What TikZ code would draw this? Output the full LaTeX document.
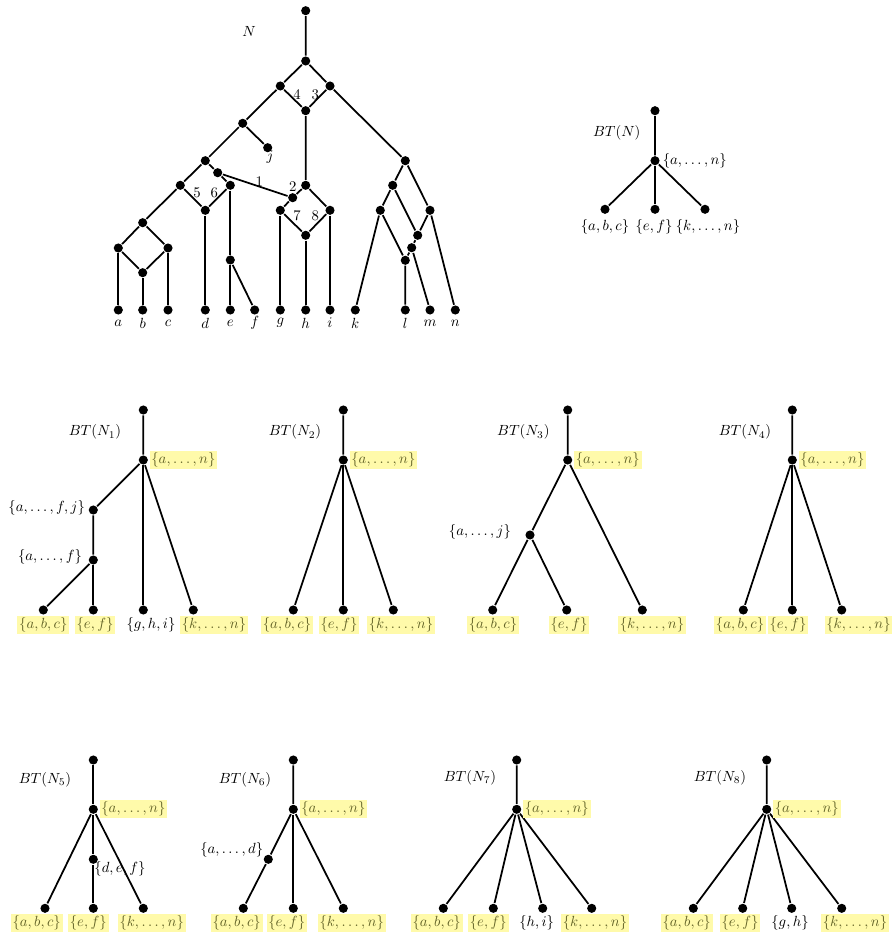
\documentclass[tikz,border=0pt]{standalone}
\usepackage{amsmath}
\usepackage{amssymb}
\definecolor{hlfill}{RGB}{255,250,170}
\definecolor{hltext}{RGB}{100,100,40}

\begin{document}
\begin{tikzpicture}[x=0.68pt,y=-0.68pt,line width=1.2pt,
    dot/.style={circle,fill=black,inner sep=0pt,minimum size=6.2pt},
    lab/.style={inner sep=1pt},
    hl/.style={fill=hlfill,text=hltext,inner sep=1.2pt}]
      \useasboundingbox (0,0) rectangle (895,937);

      % the network N
      \node[dot] (rt) at (305.7,10.7) {};
      \node[dot] (v1) at (305.7,61) {};
      \node[dot] (v2l) at (280.3,86) {};
      \node[dot] (v2r) at (330,86) {};
      \node[dot] (v2b) at (305.7,110.7) {};
      \node[dot] (v3) at (242.7,123.3) {};
      \node[dot] (vj) at (267.7,147.7) {};
      \node[dot] (v4) at (205.3,160.7) {};
      \node[dot] (v5) at (217.7,172.7) {};
      \node[dot] (v6l) at (180.3,185.3) {};
      \node[dot] (v6r) at (230.3,185.3) {};
      \node[dot] (v6b) at (205.3,210.3) {};
      \node[dot] (w1) at (305.7,185.3) {};
      \node[dot] (w2) at (292.7,197.7) {};
      \node[dot] (w3l) at (280.3,210.3) {};
      \node[dot] (w3r) at (330,210.3) {};
      \node[dot] (w3b) at (305.7,235.3) {};
      \node[dot] (u1) at (142.7,222.7) {};
      \node[dot] (u2l) at (118.3,248) {};
      \node[dot] (u2r) at (168,248) {};
      \node[dot] (u2b) at (142.7,272.7) {};
      \node[dot] (uef) at (230.3,260) {};
      \node[dot] (x1) at (405.3,160.7) {};
      \node[dot] (x2) at (392.7,185.3) {};
      \node[dot] (x3) at (380.3,210.3) {};
      \node[dot] (x4) at (430,210.3) {};
      \node[dot] (x5) at (417.7,235.3) {};
      \node[dot] (x6) at (411.7,247.7) {};
      \node[dot] (x7) at (405.3,260.3) {};
      \node[dot] (la) at (118.3,310) {};
      \node[dot] (lb) at (142.7,310) {};
      \node[dot] (lc) at (168,310) {};
      \node[dot] (ld) at (205.3,310) {};
      \node[dot] (le) at (230.3,310) {};
      \node[dot] (lf) at (254.7,310) {};
      \node[dot] (lg) at (280.3,310) {};
      \node[dot] (lh) at (305.7,310) {};
      \node[dot] (li) at (330,310) {};
      \node[dot] (lk) at (355.3,310) {};
      \node[dot] (ll) at (405.3,310) {};
      \node[dot] (lm) at (430,310) {};
      \node[dot] (ln) at (455.3,310) {};

      \draw (rt) -- (v1) -- (v2l) -- (v2b) -- (v2r) -- (v1);
      \draw (v2l) -- (v3) -- (vj);
      \draw (v3) -- (v4) -- (v5) -- (v6r) -- (v6b) -- (v6l) -- (v4);
      \draw (v5) -- (w2);
      \draw (v2b) -- (w1) -- (w2) -- (w3l) -- (w3b) -- (w3r) -- (w1);
      \draw (v6l) -- (u1) -- (u2l) -- (u2b) -- (u2r) -- (u1);
      \draw (u2l) -- (la);
      \draw (u2b) -- (lb);
      \draw (u2r) -- (lc);
      \draw (v6b) -- (ld);
      \draw (v6r) -- (uef) -- (le);
      \draw (uef) -- (lf);
      \draw (w3l) -- (lg);
      \draw (w3b) -- (lh);
      \draw (w3r) -- (li);
      \draw (v2r) -- (x1) -- (x2) -- (x3) -- (lk);
      \draw (x1) -- (x4) -- (ln);
      \draw (x2) -- (x5);
      \draw (x4) -- (x5) -- (x6) -- (x7) -- (ll);
      \draw (x3) -- (x7);
      \draw (x6) -- (lm);

      \node[lab] (tN) at (249,31) {$N$};
      \node[lab] (tj) at (270,156.7) {$j$};
      \node[lab] (e4) at (297,94.3) {4};
      \node[lab] (e3) at (315.3,94.3) {3};
      \node[lab] (e5) at (197,192.7) {5};
      \node[lab] (e6) at (214.3,192.7) {6};
      \node[lab] (e1) at (259.3,181.7) {1};
      \node[lab] (e2) at (292.7,186.7) {2};
      \node[lab] (e7) at (297,215.7) {7};
      \node[lab] (e8) at (315.3,215.7) {8};
      \node[lab] (ta) at (118.3,323) {$a$};
      \node[lab] (tb) at (142.7,323) {$b$};
      \node[lab] (tc) at (168,323) {$c$};
      \node[lab] (td) at (205.3,323) {$d$};
      \node[lab] (te) at (230.3,323) {$e$};
      \node[lab] (tf) at (254.7,323) {$f$};
      \node[lab] (tg) at (280.3,323) {$g$};
      \node[lab] (th) at (305.7,323) {$h$};
      \node[lab] (ti) at (330,323) {$i$};
      \node[lab] (tk) at (355.3,323) {$k$};
      \node[lab] (tl) at (405.3,323) {$l$};
      \node[lab] (tm) at (430,323) {$m$};
      \node[lab] (tn) at (455.3,323) {$n$};

      % BT(N)
      \node[dot] (b0) at (655,110.7) {};
      \node[dot] (b1) at (655,160.7) {};
      \node[dot] (b2) at (605,209.3) {};
      \node[dot] (b3) at (655,209.3) {};
      \node[dot] (b4) at (705,209.3) {};
      \draw (b0) -- (b1) -- (b2);
      \draw (b1) -- (b3);
      \draw (b1) -- (b4);
      \node[lab] (bT) at (616.7,133.3) {$BT(N)$};
      \node[lab,anchor=west] (bAll) at (b1.east) {$\{a,\ldots,n\}$};
      \node[lab] (bA) at (605,226.7) {$\{a,b,c\}$};
      \node[lab] (bE) at (654,226.7) {$\{e,f\}$};
      \node[lab] (bK) at (708,226.7) {$\{k,\ldots,n\}$};

      % BT(N_1)
      \node[dot] (p0) at (143.3,410) {};
      \node[dot] (p1) at (143.3,460) {};
      \node[dot] (p2) at (93.3,510) {};
      \node[dot] (p3) at (93.3,560) {};
      \node[dot] (p4) at (43.3,610) {};
      \node[dot] (p5) at (93.3,610) {};
      \node[dot] (p6) at (143.3,610) {};
      \node[dot] (p7) at (193.3,610) {};
      \draw (p0) -- (p1) -- (p2) -- (p3) -- (p4);
      \draw (p3) -- (p5);
      \draw (p1) -- (p6);
      \draw (p1) -- (p7);
      \node[lab] (pT) at (95,432.3) {$BT(N_1)$};
      \node[hl,anchor=west] (pAll) at (p1.east) {$\{a,\ldots,n\}$};
      \node[lab] (pJ) at (46.7,508.3) {$\{a,\ldots,f,j\}$};
      \node[lab] (pF) at (50,556.7) {$\{a,\ldots,f\}$};
      \node[hl] (pA) at (43.3,625) {$\{a,b,c\}$};
      \node[hl] (pE) at (95,625) {$\{e,f\}$};
      \node[lab] (pG) at (151,625) {$\{g,h,i\}$};
      \node[hl] (pK) at (214,625) {$\{k,\ldots,n\}$};

      % BT(N_2)
      \node[dot] (q0) at (343.3,410) {};
      \node[dot] (q1) at (343.3,460) {};
      \node[dot] (q2) at (293.3,610) {};
      \node[dot] (q3) at (343.3,610) {};
      \node[dot] (q4) at (393.3,610) {};
      \draw (q0) -- (q1) -- (q2);
      \draw (q1) -- (q3);
      \draw (q1) -- (q4);
      \node[lab] (qT) at (295,432.3) {$BT(N_2)$};
      \node[hl,anchor=west] (qAll) at (q1.east) {$\{a,\ldots,n\}$};
      \node[hl] (qA) at (287,625) {$\{a,b,c\}$};
      \node[hl] (qE) at (339,625) {$\{e,f\}$};
      \node[hl] (qK) at (401,625) {$\{k,\ldots,n\}$};

      % BT(N_3)
      \node[dot] (s0) at (567.7,410) {};
      \node[dot] (s1) at (567.7,460) {};
      \node[dot] (s2) at (530,535) {};
      \node[dot] (s3) at (492.7,610) {};
      \node[dot] (s4) at (566.7,610) {};
      \node[dot] (s5) at (642.3,610) {};
      \draw (s0) -- (s1) -- (s2) -- (s3);
      \draw (s2) -- (s4);
      \draw (s1) -- (s5);
      \node[lab] (sT) at (523.3,432.3) {$BT(N_3)$};
      \node[hl,anchor=west] (sAll) at (s1.east) {$\{a,\ldots,n\}$};
      \node[lab] (sJ) at (480,532) {$\{a,\ldots,j\}$};
      \node[hl] (sA) at (493,625) {$\{a,b,c\}$};
      \node[hl] (sE) at (569,625) {$\{e,f\}$};
      \node[hl] (sK) at (652,625) {$\{k,\ldots,n\}$};

      % BT(N_4)
      \node[dot] (f0) at (792.3,410) {};
      \node[dot] (f1) at (792.3,460) {};
      \node[dot] (f2) at (743.3,610) {};
      \node[dot] (f3) at (792.3,610) {};
      \node[dot] (f4) at (841.7,610) {};
      \draw (f0) -- (f1) -- (f2);
      \draw (f1) -- (f3);
      \draw (f1) -- (f4);
      \node[lab] (fT) at (745,432.3) {$BT(N_4)$};
      \node[hl,anchor=west] (fAll) at (f1.east) {$\{a,\ldots,n\}$};
      \node[hl] (fA) at (740,625) {$\{a,b,c\}$};
      \node[hl] (fE) at (788,625) {$\{e,f\}$};
      \node[hl] (fK) at (858.5,625) {$\{k,\ldots,n\}$};

      % BT(N_5)
      \node[dot] (g0) at (93.3,760) {};
      \node[dot] (g1) at (93.3,809.3) {};
      \node[dot] (g2) at (93.3,859.3) {};
      \node[dot] (g3) at (45,908.3) {};
      \node[dot] (g4) at (93.3,908.3) {};
      \node[dot] (g5) at (143.3,908.3) {};
      \node[lab] (gD) at (120,869.3) {$\{d,e,f\}$};
      \draw (g0) -- (g1) -- (g2) -- (g4);
      \draw (g1) -- (g3);
      \draw (g1) -- (g5);
      \node[lab] (gT) at (45,780) {$BT(N_5)$};
      \node[hl,anchor=west] (gAll) at (g1.east) {$\{a,\ldots,n\}$};
      \node[hl] (gA) at (36.7,923.3) {$\{a,b,c\}$};
      \node[hl] (gE) at (88.3,923.3) {$\{e,f\}$};
      \node[hl] (gK) at (151.7,923.3) {$\{k,\ldots,n\}$};

      % BT(N_6)
      \node[dot] (h0) at (293.3,760) {};
      \node[dot] (h1) at (293.3,809.3) {};
      \node[dot] (h2) at (268.3,859.3) {};
      \node[dot] (h3) at (243.3,908.3) {};
      \node[dot] (h4) at (293.3,908.3) {};
      \node[dot] (h5) at (343.3,908.3) {};
      \draw (h0) -- (h1) -- (h2) -- (h3);
      \draw (h1) -- (h4);
      \draw (h1) -- (h5);
      \node[lab] (hT) at (245,780) {$BT(N_6)$};
      \node[hl,anchor=west] (hAll) at (h1.east) {$\{a,\ldots,n\}$};
      \node[lab] (hD) at (231.7,850) {$\{a,\ldots,d\}$};
      \node[hl] (hA) at (236.7,923.3) {$\{a,b,c\}$};
      \node[hl] (hE) at (286.7,923.3) {$\{e,f\}$};
      \node[hl] (hK) at (351.7,923.3) {$\{k,\ldots,n\}$};

      % BT(N_7)
      \node[dot] (m0) at (516.7,760) {};
      \node[dot] (m1) at (516.7,809.3) {};
      \node[dot] (m2) at (443.3,908.3) {};
      \node[dot] (m3) at (493.3,908.3) {};
      \node[dot] (m4) at (542.7,908.3) {};
      \node[dot] (m5) at (591.7,908.3) {};
      \draw (m0) -- (m1) -- (m2);
      \draw (m1) -- (m3);
      \draw (m1) -- (m4);
      \draw (m1) -- (m5);
      \node[lab] (mT) at (470,778) {$BT(N_7)$};
      \node[hl,anchor=west] (mAll) at (m1.east) {$\{a,\ldots,n\}$};
      \node[hl] (mA) at (436.7,923.3) {$\{a,b,c\}$};
      \node[hl] (mE) at (488.3,923.3) {$\{e,f\}$};
      \node[lab] (mH) at (536.7,923.3) {$\{h,i\}$};
      \node[hl] (mK) at (595,923.3) {$\{k,\ldots,n\}$};

      % BT(N_8)
      \node[dot] (o0) at (766.7,760) {};
      \node[dot] (o1) at (766.7,809.3) {};
      \node[dot] (o2) at (693.3,908.3) {};
      \node[dot] (o3) at (742.7,908.3) {};
      \node[dot] (o4) at (791.7,908.3) {};
      \node[dot] (o5) at (841.7,908.3) {};
      \draw (o0) -- (o1) -- (o2);
      \draw (o1) -- (o3);
      \draw (o1) -- (o4);
      \draw (o1) -- (o5);
      \node[lab] (oT) at (720,778) {$BT(N_8)$};
      \node[hl,anchor=west] (oAll) at (o1.east) {$\{a,\ldots,n\}$};
      \node[hl] (oA) at (686.7,923.3) {$\{a,b,c\}$};
      \node[hl] (oE) at (740,923.3) {$\{e,f\}$};
      \node[lab] (oG) at (790,923.3) {$\{g,h\}$};
      \node[hl] (oK) at (855,923.3) {$\{k,\ldots,n\}$};
\end{tikzpicture}
\end{document}
